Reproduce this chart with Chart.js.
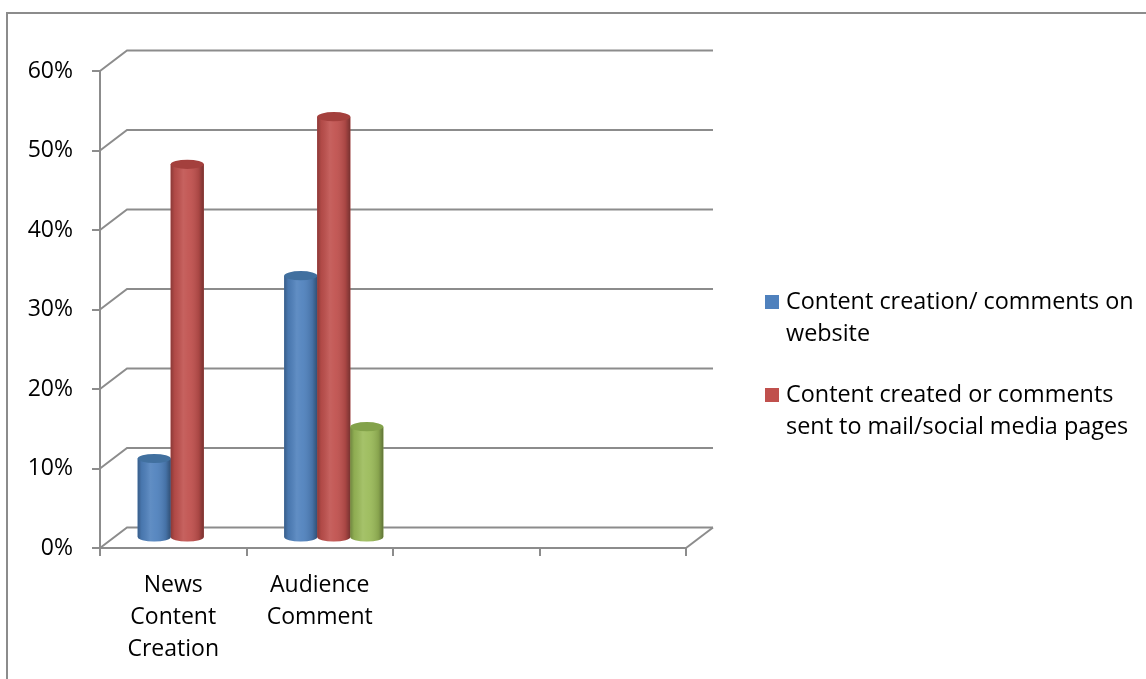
<!DOCTYPE html>
<html>
<head>
<meta charset="utf-8">
<script src="https://cdn.jsdelivr.net/npm/chart.js@4/dist/chart.umd.min.js"></script>
<style>
  html, body { margin: 0; padding: 0; background: #fff; overflow: hidden; }
  #wrap { position: relative; width: 1146px; height: 679px; }
  #frame { position: absolute; left: 6px; top: 12px; width: 1200px; height: 800px; border: 2px solid #8c8c8c; box-sizing: border-box; }
  canvas { position: absolute; left: 0; top: 0; }
  .leg { position: absolute; left: 786px; font-family: 'Open Sans', sans-serif; font-size: 23.4px; line-height: 32px; color: #000; white-space: nowrap; }
  .box { position: absolute; left: 765px; width: 14px; height: 14px; }
</style>
</head>
<body>
<div id="wrap">
  <div id="frame"></div>
  <canvas id="c" width="1146" height="679"></canvas>
  <div id="legend"></div>
</div>
<script>
// ---- data ----
const categories = [["News", "Content", "Creation"], ["Audience", "Comment"], "", ""];
const seriesNames = ["Content creation/ comments on website", "Content created or comments sent to mail/social media pages", "Other"];
const websiteValues = [10, 33, null, null];
const socialValues = [47, 53, null, null];
const otherValues = [null, 14, null, null];
const yTicks = [0, 10, 20, 30, 40, 50, 60];
const legendLines = [["Content creation/ comments on", "website"], ["Content created or comments", "sent to mail/social media pages"]];

const colors = ["#4F81BD", "#C0504D", "#9BBB59"];
const capColors = ["#41709f", "#a4403d", "#83a24a"];
const GRID = "#8c8c8c";
const BAR_DX = 14, BAR_DY = -10;   // depth offset for bars
const BACK_DX = 27, BACK_DY = -20.5; // depth offset for back wall

// ---- legend (HTML, real text) ----
const legendEl = document.getElementById('legend');
const legendTops = [284, 377];
legendLines.forEach((lines, i) => {
  const b = document.createElement('div');
  b.className = 'box';
  b.style.top = (legendTops[i] + 11) + 'px';
  b.style.background = colors[i];
  legendEl.appendChild(b);
  const t = document.createElement('div');
  t.className = 'leg';
  t.style.top = legendTops[i] + 'px';
  t.innerHTML = lines.join('<br>');
  legendEl.appendChild(t);
});

const framePlugin = {
  id: 'frame3d',
  beforeDatasetsDraw(chart) {
    const ctx = chart.ctx;
    const ys = chart.scales.y, area = chart.chartArea;
    ctx.save();
    ctx.strokeStyle = GRID;
    ctx.lineWidth = 2;
    ctx.lineCap = 'butt';
    ys.ticks.forEach(t => {
      const yf = ys.getPixelForValue(t.value);
      ctx.beginPath();
      ctx.moveTo(area.left, yf);
      ctx.lineTo(area.left + BACK_DX, yf + BACK_DY);
      ctx.lineTo(area.right + BACK_DX, yf + BACK_DY);
      ctx.stroke();
    });
    const yb = ys.getPixelForValue(0);
    ctx.beginPath();
    ctx.moveTo(area.right, yb);
    ctx.lineTo(area.right + BACK_DX, yb + BACK_DY);
    ctx.stroke();
    ctx.restore();
    ctx.save();
    ctx.translate(BAR_DX, BAR_DY);
  },
  afterDatasetsDraw(chart) {
    const ctx = chart.ctx;
    chart.data.datasets.forEach((ds, di) => {
      const meta = chart.getDatasetMeta(di);
      if (meta.hidden) return;
      meta.data.forEach((el, i) => {
        if (ds.data[i] == null) return;
        const p = el.getProps(['x', 'y', 'base', 'width'], true);
        const w = p.width, left = p.x - w / 2, right = p.x + w / 2;
        const ry = w * 0.14;
        const body = () => {
          ctx.beginPath();
          ctx.moveTo(left, p.y);
          ctx.lineTo(left, p.base);
          ctx.ellipse(p.x, p.base, w / 2, ry, 0, Math.PI, 0, true);
          ctx.lineTo(right, p.y);
          ctx.closePath();
        };
        body();
        ctx.fillStyle = colors[di];
        ctx.fill();
        const g = ctx.createLinearGradient(left, 0, right, 0);
        g.addColorStop(0, 'rgba(0,0,0,0.28)');
        g.addColorStop(0.12, 'rgba(0,0,0,0.08)');
        g.addColorStop(0.38, 'rgba(255,255,255,0.10)');
        g.addColorStop(0.55, 'rgba(255,255,255,0.06)');
        g.addColorStop(0.85, 'rgba(0,0,0,0.12)');
        g.addColorStop(1, 'rgba(0,0,0,0.38)');
        body();
        ctx.fillStyle = g;
        ctx.fill();
        ctx.beginPath();
        ctx.ellipse(p.x, p.y, w / 2, ry, 0, 0, Math.PI * 2);
        ctx.fillStyle = capColors[di];
        ctx.fill();
      });
    });
    ctx.restore();
  }
};

new Chart(document.getElementById('c'), {
  type: 'bar',
  data: {
    labels: categories,
    datasets: [
      { label: seriesNames[0], data: websiteValues, backgroundColor: colors[0], borderWidth: 0 },
      { label: seriesNames[1], data: socialValues, backgroundColor: colors[1], borderWidth: 0 },
      { label: seriesNames[2], data: otherValues, backgroundColor: colors[2], borderWidth: 0 }
    ]
  },
  options: {
    responsive: false,
    animation: false,
    events: [],
    categoryPercentage: 0.676,
    barPercentage: 1,
    layout: { padding: { left: 0, top: 71, right: 460, bottom: 0 } },
    plugins: { legend: { display: false }, tooltip: { enabled: false } },
    scales: {
      x: {
        grid: { display: true, drawOnChartArea: false, drawTicks: true, tickLength: 8, offset: true, color: GRID, lineWidth: 2 },
        border: { display: true, color: GRID, width: 2 },
        ticks: { color: '#000', padding: 13, maxRotation: 0, autoSkip: false,
                 font: { family: "'Open Sans', sans-serif", size: 23, lineHeight: 32 / 23 } },
        afterFit(s) { s.height = 131; }
      },
      y: {
        min: 0, max: 60,
        afterBuildTicks(s) { s.ticks = yTicks.map(v => ({ value: v })); },
        grid: { display: true, drawOnChartArea: false, drawTicks: true, tickLength: 8, color: GRID, lineWidth: 2 },
        border: { display: true, color: GRID, width: 2 },
        ticks: { color: '#000', padding: 19, callback: v => v + '%',
                 font: { family: "'Open Sans', sans-serif", size: 23 } },
        afterFit(s) { s.width = 100; }
      }
    }
  },
  plugins: [framePlugin]
});
</script>
</body>
</html>
